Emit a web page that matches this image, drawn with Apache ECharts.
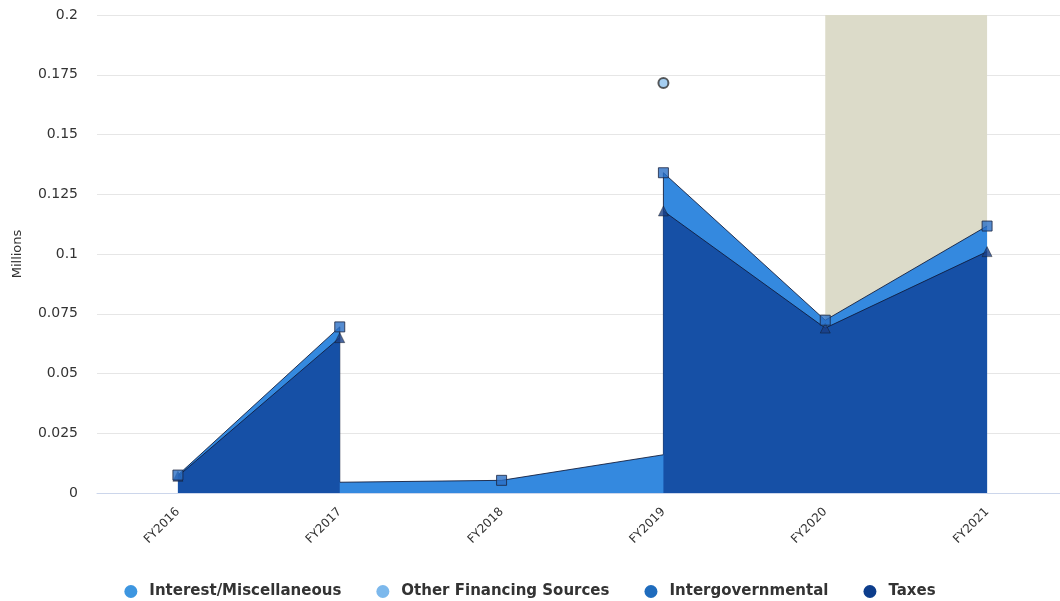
<!DOCTYPE html>
<html><head><meta charset="utf-8">
<script src="https://cdn.jsdelivr.net/npm/echarts@6/dist/echarts.min.js"></script>
<style>html,body{margin:0;padding:0;background:#fff}#c{width:1060px;height:601px}</style>
</head><body><div id="c"></div>
<script>
const categories = ['FY2016','FY2017','FY2018','FY2019','FY2020','FY2021'];
const taxes = [0.007, 0.065, null, 0.118, 0.069, 0.101];
const intergovernmental = [0.0005, 0.0045, 0.0053, 0.016, 0.0033, 0.0107];
const otherFinancingSources = [null, null, null, 0.0375, null, null];
const interestMiscellaneous = [null, null, null, null, null, null];
const yTicks = [0, 0.025, 0.05, 0.075, 0.1, 0.125, 0.15, 0.175, 0.2];
const plotBandRange = ['FY2020', 'FY2021'];

const n = categories.length;
const has = v => v !== null && v !== undefined;
// intergovernmental stacked top edge (Highcharts-like handling of nulls in the lower series)
const interTop = [];
for (let i = 0; i < n; i++) {
  const baseL = (i > 0 && has(taxes[i-1]) && has(taxes[i])) ? taxes[i] : 0;
  const baseR = (i < n-1 && has(taxes[i]) && has(taxes[i+1])) ? taxes[i] : 0;
  if (i === 0) interTop.push([i, intergovernmental[i] + baseR]);
  else if (i === n-1) interTop.push([i, intergovernmental[i] + baseL]);
  else if (baseL === baseR) interTop.push([i, intergovernmental[i] + baseL]);
  else { interTop.push([i, intergovernmental[i] + baseL]); interTop.push([i, intergovernmental[i] + baseR]); }
}
const interMarkers = intergovernmental.map((v, i) => has(v) ? [i, v + (has(taxes[i]) ? taxes[i] : 0)] : null).filter(Boolean);
const taxMarkers = taxes.map((v, i) => has(v) ? [i, v] : null).filter(Boolean);
const otherMarkers = otherFinancingSources.map((v, i) => has(v) ? [i, v + (has(taxes[i]) ? taxes[i] : 0) + (has(intergovernmental[i]) ? intergovernmental[i] : 0)] : null).filter(Boolean);

const edge = {width: 1, color: 'rgba(15,25,55,0.85)'};
const chart = echarts.init(document.getElementById('c'));
chart.setOption({
  animation: false,
  textStyle: {fontFamily: 'DejaVu Sans'},
  grid: {left: 97, top: 15, width: 971, height: 478, outerBoundsMode: 'none', containLabel: false},
  legend: {
    data: ['Interest/Miscellaneous', 'Other Financing Sources', 'Intergovernmental', 'Taxes'],
    left: 'center', top: 579, icon: 'circle', itemWidth: 13, itemHeight: 13, itemGap: 35,
    textStyle: {fontSize: 15, fontWeight: 'bold', color: '#333', fontFamily: 'DejaVu Sans', padding: [0, 0, 0, 7]}
  },
  xAxis: {
    type: 'category', data: categories, boundaryGap: true,
    axisLine: {lineStyle: {color: '#ccd6eb'}}, axisTick: {show: false},
    axisLabel: {rotate: 45, fontSize: 12, color: '#333', margin: 17, interval: 0}
  },
  yAxis: {
    type: 'value', min: 0, max: 0.2, interval: 0.025,
    name: 'Millions', nameLocation: 'middle', nameGap: 73, nameRotate: 90,
    nameTextStyle: {fontSize: 13, color: '#333'},
    axisLabel: {fontSize: 14, color: '#333', margin: 19, formatter: v => String(+v.toFixed(3))},
    splitLine: {lineStyle: {color: '#e6e6e6'}}
  },
  series: [
    {name: 'Interest/Miscellaneous', type: 'line', data: interestMiscellaneous, itemStyle: {color: '#3d96e0'}, showSymbol: false,
     markArea: {silent: true, itemStyle: {color: '#dcdbc9'}, data: [[{xAxis: plotBandRange[0]}, {xAxis: plotBandRange[1]}]]}, z: 1},
    {name: 'Other Financing Sources', type: 'line', data: otherFinancingSources.map(() => null), itemStyle: {color: '#7cb8ec'}, showSymbol: false},
    {name: 'Intergovernmental', type: 'line', data: interTop, itemStyle: {color: '#1f6cbd'}, showSymbol: false,
     lineStyle: edge, areaStyle: {color: '#3489df', opacity: 1}, z: 3},
    {name: 'Taxes', type: 'line', data: taxes, itemStyle: {color: '#0d3d8c'}, showSymbol: false,
     lineStyle: edge, areaStyle: {color: '#1650a6', opacity: 1}, z: 4},
    {name: 'taxMarkers', type: 'scatter', data: taxMarkers, symbol: 'triangle', symbolSize: 10,
     itemStyle: {color: '#1a3f86', borderColor: '#111', borderWidth: 0.5}, z: 5},
    {name: 'interMarkers', type: 'scatter', data: interMarkers, symbol: 'rect', symbolSize: 10,
     itemStyle: {color: '#2a6fc6', borderColor: '#1a2440', borderWidth: 1}, z: 6},
    {name: 'otherMarkers', type: 'scatter', data: otherMarkers, symbol: 'circle', symbolSize: 10,
     itemStyle: {color: '#8ec2ee', borderColor: '#333', borderWidth: 2}, z: 6}
  ]
});
</script></body></html>
